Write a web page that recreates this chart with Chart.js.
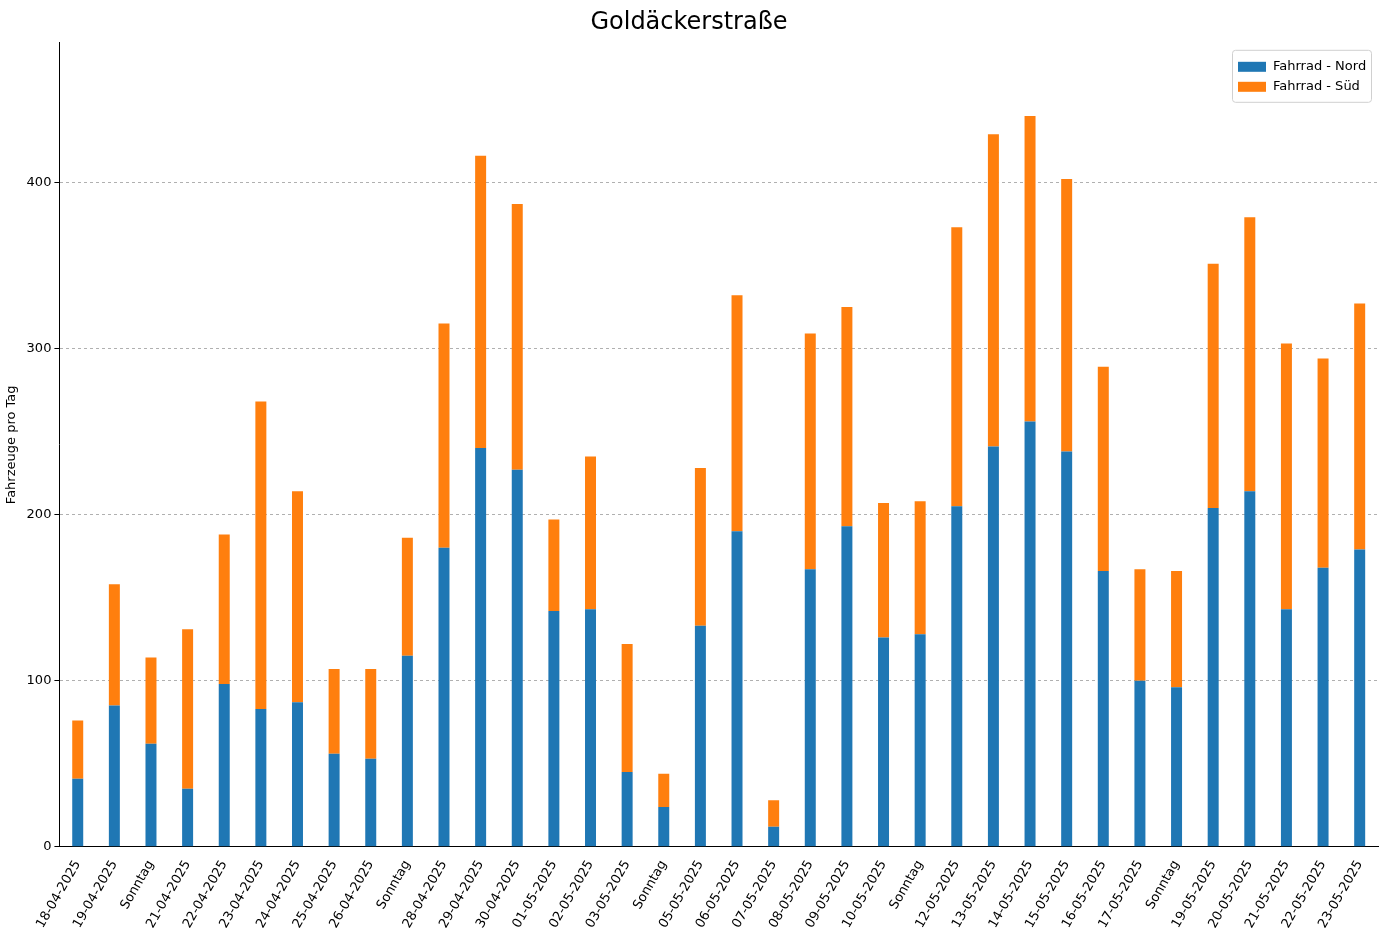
<!DOCTYPE html>
<html>
<head>
<meta charset="utf-8">
<script src="https://cdn.jsdelivr.net/npm/chart.js@4/dist/chart.umd.min.js"></script>
<style>
  body { margin: 0; background: #fff; }
  #wrap { width: 1400px; height: 934px; }
</style>
</head>
<body>
<div id="wrap"><canvas id="chart"></canvas></div>
<script>
// day labels (sundays shown as "Sonntag")
const days = [
  "18-04-2025", "19-04-2025", "Sonntag", "21-04-2025", "22-04-2025", "23-04-2025",
  "24-04-2025", "25-04-2025", "26-04-2025", "Sonntag", "28-04-2025", "29-04-2025",
  "30-04-2025", "01-05-2025", "02-05-2025", "03-05-2025", "Sonntag", "05-05-2025",
  "06-05-2025", "07-05-2025", "08-05-2025", "09-05-2025", "10-05-2025", "Sonntag",
  "12-05-2025", "13-05-2025", "14-05-2025", "15-05-2025", "16-05-2025", "17-05-2025",
  "Sonntag", "19-05-2025", "20-05-2025", "21-05-2025", "22-05-2025", "23-05-2025"
];

// bikes heading north
const nord = [41, 85, 62, 35, 98, 83, 87, 56, 53, 115, 180, 240, 227, 142, 143, 45, 24, 133,
  190, 12, 167, 193, 126, 128, 205, 241, 256, 238, 166, 100, 96, 204, 214, 143, 168, 179];

// daily totals, south = total - north
const total = [76, 158, 114, 131, 188, 268, 214, 107, 107, 186, 315, 416, 387, 197, 235, 122, 44, 228,
  332, 28, 309, 325, 207, 208, 373, 429, 440, 402, 289, 167, 166, 351, 379, 303, 294, 327];
const sued = total.map((t, i) => t - nord[i]);

const yTicks = [0, 100, 200, 300, 400];

//draws the legend box in the top right corner of the plot
const legendBox = {
  id: "legendBox",
  afterDraw(chart) {
    const { ctx, chartArea } = chart;
    const w = 139, h = 52;
    const x = chartArea.right - w - 7, y = chartArea.top + 7;
    ctx.save();
    ctx.fillStyle = "rgba(255,255,255,0.8)";
    ctx.strokeStyle = "#d0d0d0";
    ctx.lineWidth = 1;
    ctx.beginPath();
    ctx.roundRect(x + 0.5, y + 0.5, w, h, 3);
    ctx.fill();
    ctx.stroke();
    ctx.font = "13px 'DejaVu Sans'";
    ctx.textBaseline = "middle";
    chart.data.datasets.forEach((ds, i) => {
      const ry = y + 17 + i * 20;
      ctx.fillStyle = ds.backgroundColor;
      ctx.fillRect(x + 6, ry - 5, 28, 10);
      ctx.fillStyle = "#000";
      ctx.fillText(ds.label, x + 41, ry);
    });
    ctx.restore();
  },
};

new Chart(document.getElementById("chart"), {
  type: "bar",
  data: {
    labels: days,
    datasets: [
      { label: "Fahrrad - Nord", data: nord, backgroundColor: "#1f77b4" },
      { label: "Fahrrad - Süd", data: sued, backgroundColor: "#ff7f0e" },
    ],
  },
  options: {
    responsive: true,
    maintainAspectRatio: false,
    animation: false,
    layout: { padding: { left: 0, right: 22, top: 0, bottom: 0 } },
    datasets: { bar: { barPercentage: 0.3, categoryPercentage: 1 } },
    plugins: {
      legend: { display: false },
      tooltip: { enabled: false },
      title: {
        display: true,
        text: "Goldäckerstraße",
        color: "#000",
        font: { size: 24, family: "DejaVu Sans", weight: "normal" },
        padding: { top: 8, bottom: 6 },
      },
    },
    scales: {
      x: {
        stacked: true,
        offset: true,
        grid: { display: false, drawTicks: true },
        border: { color: "#000" },
        ticks: {
          color: "#000",
          font: { size: 13, family: "DejaVu Sans" },
          maxRotation: 60,
          minRotation: 60,
          autoSkip: false,
        },
      },
      y: {
        stacked: true,
        min: 0,
        max: 484,
        afterBuildTicks: (axis) => {
          axis.ticks = yTicks.map((v) => ({ value: v }));
        },
        grid: {
          color: "#b0b0b0",
          borderDash: [3, 3],
          tickColor: "#000",
          tickLength: 5,
        },
        border: { color: "#000", dash: [3, 3] },
        ticks: { color: "#000", font: { size: 13, family: "DejaVu Sans" } },
        title: {
          display: true,
          text: "Fahrzeuge pro Tag",
          color: "#000",
          font: { size: 13, family: "DejaVu Sans" },
        },
      },
    },
  },
  plugins: [legendBox],
});
</script>
</body>
</html>
